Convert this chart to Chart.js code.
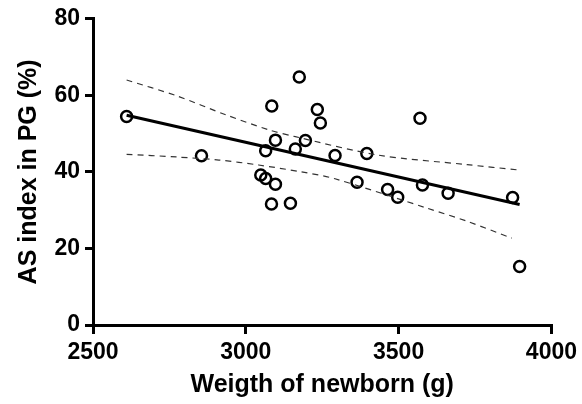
<!DOCTYPE html>
<html>
<head>
<meta charset="utf-8">
<script src="https://cdn.jsdelivr.net/npm/chart.js@4.4.1/dist/chart.umd.min.js"></script>
<style>
  html, body { margin: 0; padding: 0; background: #fff; }
  #wrap { width: 582px; height: 404px; }
</style>
</head>
<body>
<div id="wrap"><canvas id="myChart"></canvas></div>
<script>
// weight of newborn (g) and AS index (%)
var weights = [2610, 2855, 3175, 3085, 3234, 3244, 3570, 3097, 3065, 3162, 3195, 3292, 3049,
               3065, 3097, 3084, 3146, 3396, 3364, 3464, 3497, 3578, 3662, 3873, 3896];
var asIndex = [54.5, 44.2, 64.8, 57.2, 56.3, 52.8, 54.0, 48.3, 45.5, 46.0, 48.2, 44.3, 39.2,
               38.3, 36.8, 31.6, 31.8, 44.8, 37.3, 35.4, 33.4, 36.6, 34.4, 33.3, 15.3];

// regression line and its 95% band, read at a few spots
var fitX = [2610, 3896];
var fitY = [54.8, 31.5];
var upperX = [2610, 2773, 2935, 3075, 3162, 3432, 3724, 3893];
var upperY = [64.0, 59.9, 54.9, 51.0, 49.2, 44.4, 41.9, 40.5];
var lowerX = [2610, 2773, 2912, 3042, 3182, 3292, 3594, 3724, 3870];
var lowerY = [44.6, 43.9, 43.1, 41.8, 40.0, 38.2, 30.5, 27.1, 22.7];

var xTicks = [2500, 3000, 3500, 4000];
var yTicks = [0, 20, 40, 60, 80];

function pairs(xs, ys) {
    return xs.map(function (x, i) { return { x: x, y: ys[i] }; });
}

var tickFont = { family: "'Liberation Sans', Arial, sans-serif", weight: 'bold', size: 23 };
var titleFont = { family: "'Liberation Sans', Arial, sans-serif", weight: 'bold', size: 25 };

var ctx = document.getElementById('myChart').getContext('2d');
var chart = new Chart(ctx, {
    type: 'scatter',
    data: {
        datasets: [{
            label: 'band upper',
            data: pairs(upperX, upperY),
            showLine: true,
            borderColor: '#333',
            borderWidth: 1.2,
            borderDash: [6, 5],
            pointRadius: 0,
            tension: 0.3
        }, {
            label: 'band lower',
            data: pairs(lowerX, lowerY),
            showLine: true,
            borderColor: '#333',
            borderWidth: 1.2,
            borderDash: [6, 5],
            pointRadius: 0,
            tension: 0.3
        }, {
            label: 'fit',
            data: pairs(fitX, fitY),
            showLine: true,
            borderColor: '#000',
            borderWidth: 3,
            pointRadius: 0
        }, {
            label: 'AS index',
            data: pairs(weights, asIndex),
            pointStyle: 'circle',
            pointRadius: 5.5,
            pointBorderWidth: 2.5,
            borderColor: '#000',
            backgroundColor: 'rgba(255,255,255,0)'
        }]
    },
    options: {
        responsive: true,
        maintainAspectRatio: false,
        animation: false,
        layout: { padding: { left: 0, top: 15, right: 27, bottom: 0 } },
        plugins: {
            legend: { display: false },
            tooltip: { enabled: false }
        },
        scales: {
            x: {
                type: 'linear',
                min: 2500,
                max: 4000,
                afterBuildTicks: function (s) { s.ticks = xTicks.map(function (v) { return { value: v }; }); },
                afterFit: function (s) { s.height = 79; },
                ticks: { color: '#000', font: tickFont, padding: 5, maxRotation: 0,
                         callback: function (v) { return String(v); } },
                grid: { drawOnChartArea: false, drawTicks: true, tickLength: 9, color: '#000', lineWidth: 3 },
                border: { display: true, color: '#000', width: 3 },
                title: { display: true, text: 'Weigth of newborn (g)', color: '#000', font: titleFont, padding: { top: 0, bottom: 4 } }
            },
            y: {
                min: 0,
                max: 80,
                afterBuildTicks: function (s) { s.ticks = yTicks.map(function (v) { return { value: v }; }); },
                afterFit: function (s) { s.width = 93; },
                ticks: { color: '#000', font: tickFont, padding: 5,
                         callback: function (v) { return String(v); } },
                grid: { drawOnChartArea: false, drawTicks: true, tickLength: 8, color: '#000', lineWidth: 3 },
                border: { display: true, color: '#000', width: 3 },
                title: { display: true, text: 'AS index in PG (%)', color: '#000', font: titleFont, padding: { top: 14, bottom: 0 } }
            }
        }
    }
});
</script>
</body>
</html>
